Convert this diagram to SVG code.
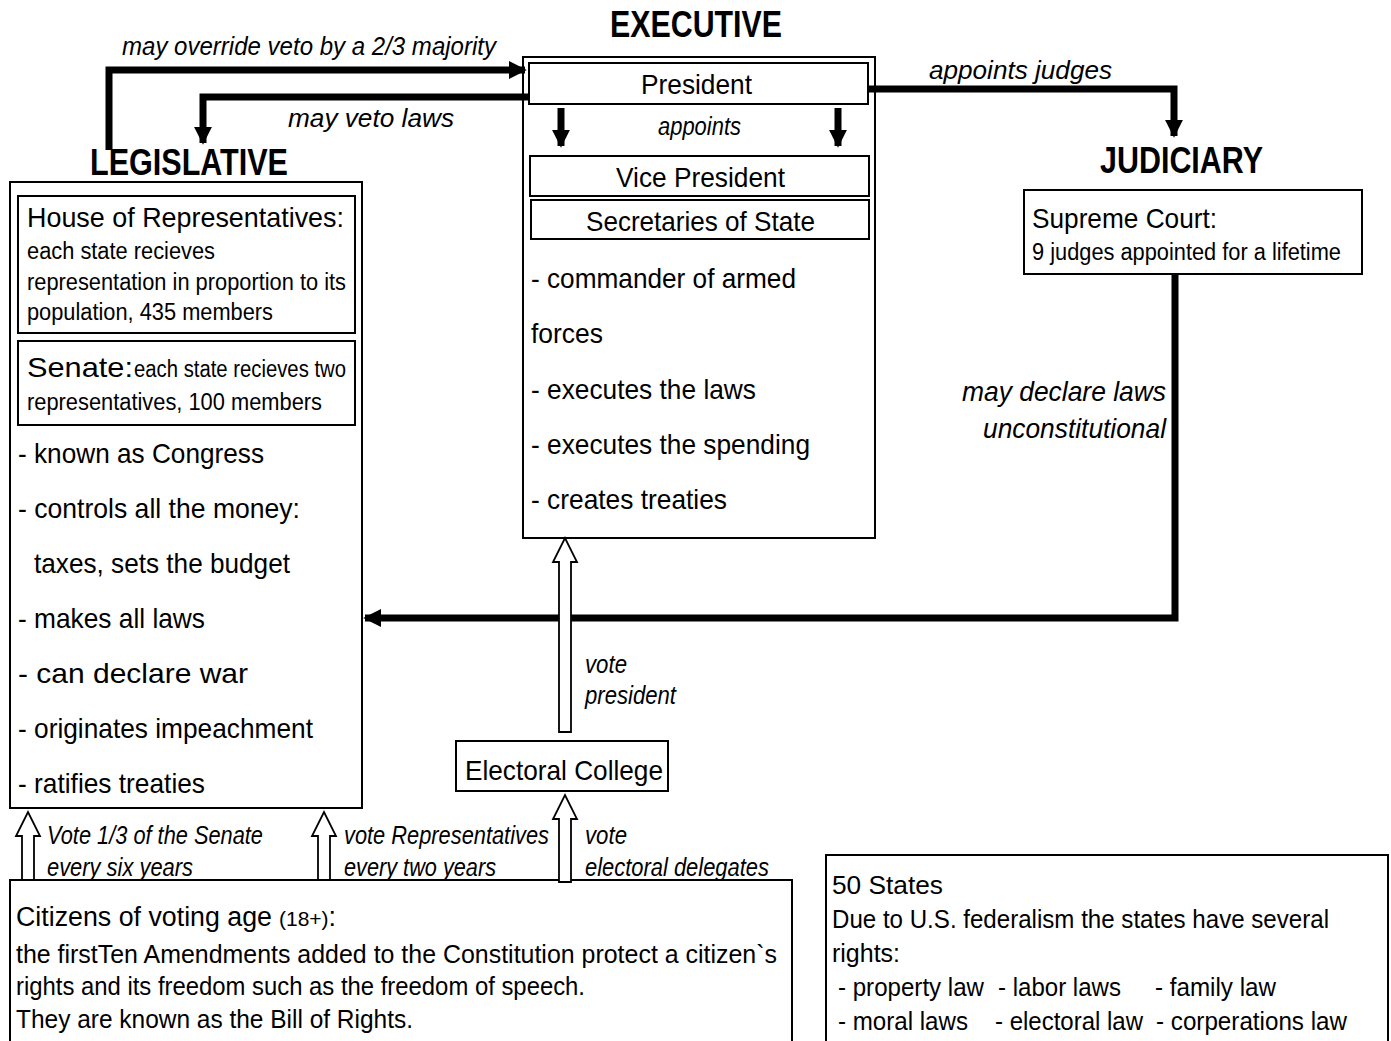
<svg xmlns="http://www.w3.org/2000/svg" width="1391" height="1041" viewBox="0 0 1391 1041">
<defs>
<style>
text{font-family:"Liberation Sans",Arial,sans-serif;fill:#000}
.h{font-weight:bold;font-size:36px}
.m{font-size:28px}
.s{font-size:23px}
.i{font-style:italic}
.l{font-size:26px}
.c{font-size:25px}
.box{fill:#fff;stroke:#000;stroke-width:2}
.con{fill:none;stroke:#000;stroke-width:7}
.hol{fill:#fff;stroke:#000;stroke-width:1.8;stroke-linejoin:miter}
</style>
<marker id="ah" viewBox="0 0 10 10" refX="9" refY="5" markerWidth="2.6" markerHeight="2.6" markerUnits="strokeWidth" orient="auto">
<path d="M0,0 L10,5 L0,10 Z" fill="#000"/>
</marker>
</defs>
<rect width="1391" height="1041" fill="#fff"/>

<g id="titles">
<text class="h" x="610" y="37" textLength="172" lengthAdjust="spacingAndGlyphs">EXECUTIVE</text>
<text class="h" x="90" y="175" textLength="198" lengthAdjust="spacingAndGlyphs">LEGISLATIVE</text>
<text class="h" x="1100" y="173" textLength="163" lengthAdjust="spacingAndGlyphs">JUDICIARY</text>
</g>

<g id="legislative">
<rect class="box" x="10" y="182" width="352" height="626"/>
<rect class="box" x="18" y="196" width="337" height="137"/>
<text class="m" x="27" y="227" textLength="317" lengthAdjust="spacingAndGlyphs">House of Representatives:</text>
<text class="s" x="27" y="259" textLength="188" lengthAdjust="spacingAndGlyphs">each state recieves</text>
<text class="s" x="27" y="290" textLength="319" lengthAdjust="spacingAndGlyphs">representation in proportion to its</text>
<text class="s" x="27" y="320" textLength="246" lengthAdjust="spacingAndGlyphs">population, 435 members</text>
<rect class="box" x="18" y="341" width="337" height="84"/>
<text class="m" x="27" y="377" textLength="106" lengthAdjust="spacingAndGlyphs">Senate:</text>
<text class="s" x="134" y="377" textLength="212" lengthAdjust="spacingAndGlyphs">each state recieves two</text>
<text class="s" x="27" y="410" textLength="295" lengthAdjust="spacingAndGlyphs">representatives, 100 members</text>
<text class="m" x="18" y="463" textLength="246" lengthAdjust="spacingAndGlyphs">- known as Congress</text>
<text class="m" x="18" y="518" textLength="282" lengthAdjust="spacingAndGlyphs">- controls all the money:</text>
<text class="m" x="34" y="573" textLength="256" lengthAdjust="spacingAndGlyphs">taxes, sets the budget</text>
<text class="m" x="18" y="628" textLength="187" lengthAdjust="spacingAndGlyphs">- makes all laws</text>
<text class="m" x="18" y="683" textLength="230" lengthAdjust="spacingAndGlyphs">- can declare war</text>
<text class="m" x="18" y="738" textLength="295" lengthAdjust="spacingAndGlyphs">- originates impeachment</text>
<text class="m" x="18" y="793" textLength="187" lengthAdjust="spacingAndGlyphs">- ratifies treaties</text>
</g>

<g id="executive">
<rect class="box" x="523" y="57" width="352" height="481"/>
<rect class="box" x="529" y="63" width="339" height="41"/>
<text class="m" x="641" y="94" textLength="111" lengthAdjust="spacingAndGlyphs">President</text>
<text class="c i" x="658" y="135" textLength="83" lengthAdjust="spacingAndGlyphs">appoints</text>
<rect class="box" x="530" y="156" width="339" height="40"/>
<text class="m" x="616" y="187" textLength="169" lengthAdjust="spacingAndGlyphs">Vice President</text>
<rect class="box" x="531" y="200" width="338" height="39"/>
<text class="m" x="586" y="231" textLength="229" lengthAdjust="spacingAndGlyphs">Secretaries of State</text>
<text class="m" x="531" y="288" textLength="265" lengthAdjust="spacingAndGlyphs">- commander of armed</text>
<text class="m" x="531" y="343" textLength="72" lengthAdjust="spacingAndGlyphs">forces</text>
<text class="m" x="531" y="399" textLength="225" lengthAdjust="spacingAndGlyphs">- executes the laws</text>
<text class="m" x="531" y="454" textLength="279" lengthAdjust="spacingAndGlyphs">- executes the spending</text>
<text class="m" x="531" y="509" textLength="196" lengthAdjust="spacingAndGlyphs">- creates treaties</text>
</g>

<g id="judiciary">
<rect class="box" x="1024" y="190" width="338" height="84"/>
<text class="m" x="1032" y="228" textLength="185" lengthAdjust="spacingAndGlyphs">Supreme Court:</text>
<text class="s" x="1032" y="260" textLength="309" lengthAdjust="spacingAndGlyphs">9 judges appointed for a lifetime</text>
</g>

<g id="electoral-college">
<rect class="box" x="456" y="741" width="212" height="50"/>
<text class="m" x="465" y="780" textLength="198" lengthAdjust="spacingAndGlyphs">Electoral College</text>
</g>

<g id="citizens">
<rect class="box" x="10" y="880" width="782" height="175"/>
<text x="16" y="926"><tspan style="font-size:27px" textLength="256" lengthAdjust="spacingAndGlyphs">Citizens of voting age</tspan><tspan x="279" style="font-size:21px">(18+)</tspan><tspan style="font-size:27px">:</tspan></text>
<text class="c" x="16" y="963" textLength="761" lengthAdjust="spacingAndGlyphs">the firstTen Amendments added to the Constitution protect a citizen`s</text>
<text class="c" x="16" y="995" textLength="569" lengthAdjust="spacingAndGlyphs">rights and its freedom such as the freedom of speech.</text>
<text class="c" x="16" y="1028" textLength="397" lengthAdjust="spacingAndGlyphs">They are known as the Bill of Rights.</text>
</g>

<g id="states">
<rect class="box" x="826" y="855" width="562" height="200"/>
<text class="c" x="832" y="894" textLength="111" lengthAdjust="spacingAndGlyphs">50 States</text>
<text class="c" x="832" y="928" textLength="497" lengthAdjust="spacingAndGlyphs">Due to U.S. federalism the states have several</text>
<text class="c" x="832" y="962" textLength="68" lengthAdjust="spacingAndGlyphs">rights:</text>
<text class="c" x="838" y="996" textLength="146" lengthAdjust="spacingAndGlyphs">- property law</text>
<text class="c" x="998" y="996" textLength="123" lengthAdjust="spacingAndGlyphs">- labor laws</text>
<text class="c" x="1155" y="996" textLength="121" lengthAdjust="spacingAndGlyphs">- family law</text>
<text class="c" x="838" y="1030" textLength="130" lengthAdjust="spacingAndGlyphs">- moral laws</text>
<text class="c" x="995" y="1030" textLength="148" lengthAdjust="spacingAndGlyphs">- electoral law</text>
<text class="c" x="1156" y="1030" textLength="191" lengthAdjust="spacingAndGlyphs">- corperations law</text>
</g>

<g id="connectors">
<polyline class="con" points="109,150 109,70 525,70" marker-end="url(#ah)"/>
<polyline class="con" points="529,97 203,97 203,143" marker-end="url(#ah)"/>
<polyline class="con" points="868,89 1174,89 1174,136" marker-end="url(#ah)"/>
<polyline class="con" points="1175,274 1175,618 365,618" marker-end="url(#ah)"/>
<line x1="561" y1="108" x2="561" y2="146" class="con" marker-end="url(#ah)"/>
<line x1="838" y1="108" x2="838" y2="146" class="con" marker-end="url(#ah)"/>
<path class="hol" d="M559,732 L559,562 L553,562 L565,538 L577,562 L571,562 L571,732 Z"/>
<path class="hol" d="M559,882 L559,819 L553,819 L565,795 L577,819 L571,819 L571,882 Z"/>
<path class="hol" d="M22,880 L22,836 L16,836 L28,812 L40,836 L34,836 L34,880 Z"/>
<path class="hol" d="M318,880 L318,836 L312,836 L324,812 L336,836 L330,836 L330,880 Z"/>
<text class="l i" x="122" y="55" textLength="374" lengthAdjust="spacingAndGlyphs">may override veto by a 2/3 majority</text>
<text class="l i" x="288" y="127" textLength="166" lengthAdjust="spacingAndGlyphs">may veto laws</text>
<text class="l i" x="929" y="79" textLength="183" lengthAdjust="spacingAndGlyphs">appoints judges</text>
<text class="m i" x="962" y="401" textLength="204" lengthAdjust="spacingAndGlyphs">may declare laws</text>
<text class="m i" x="983" y="438" textLength="183" lengthAdjust="spacingAndGlyphs">unconstitutional</text>
<text class="c i" x="585" y="673" textLength="42" lengthAdjust="spacingAndGlyphs">vote</text>
<text class="c i" x="585" y="704" textLength="91" lengthAdjust="spacingAndGlyphs">president</text>
<text class="c i" x="47" y="844" textLength="216" lengthAdjust="spacingAndGlyphs">Vote 1/3 of the Senate</text>
<text class="c i" x="47" y="876" textLength="146" lengthAdjust="spacingAndGlyphs">every six years</text>
<text class="c i" x="344" y="844" textLength="205" lengthAdjust="spacingAndGlyphs">vote Representatives</text>
<text class="c i" x="344" y="876" textLength="152" lengthAdjust="spacingAndGlyphs">every two years</text>
<text class="c i" x="585" y="844" textLength="42" lengthAdjust="spacingAndGlyphs">vote</text>
<text class="c i" x="585" y="876" textLength="184" lengthAdjust="spacingAndGlyphs">electoral delegates</text>
</g>
</svg>
